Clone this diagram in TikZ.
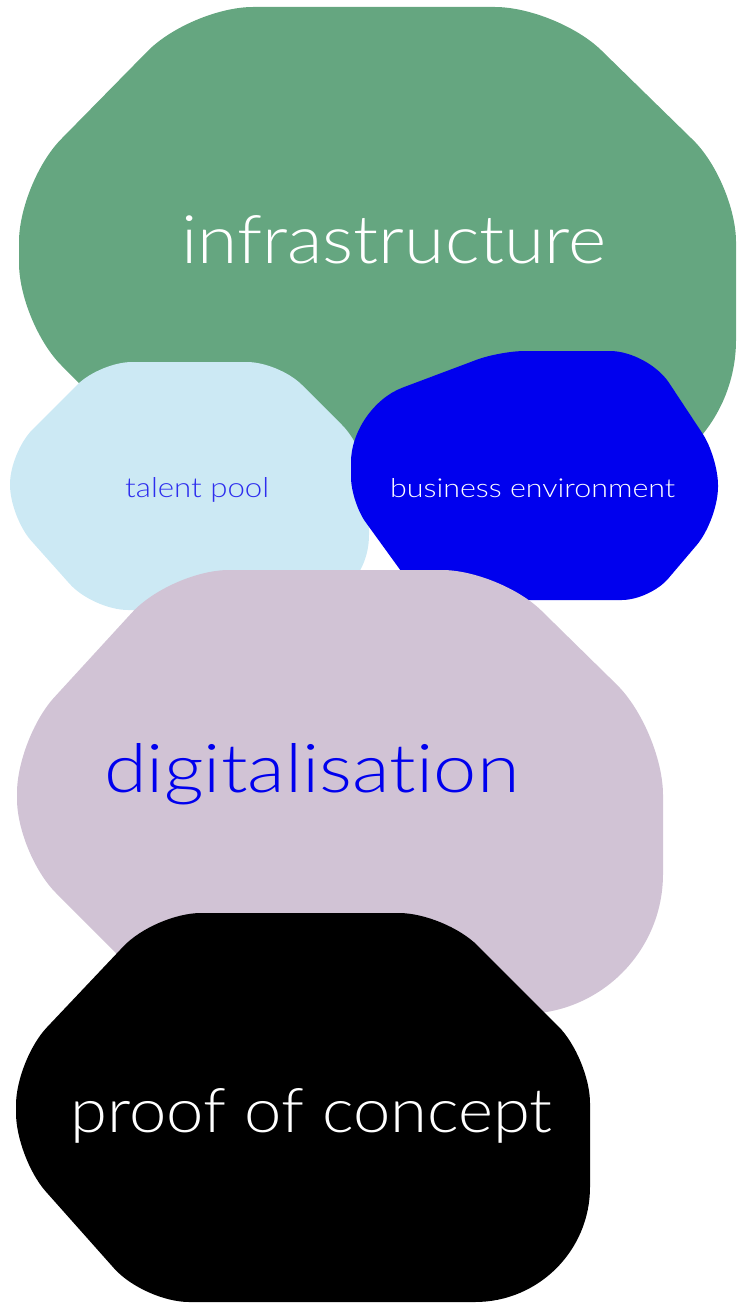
\documentclass[tikz,border=0pt]{standalone}
\usepackage{fontspec}
\usepackage{graphicx}
\newfontfamily\thinfont{Lato Light}[Ligatures={NoCommon}]
\definecolor{infra}{RGB}{101,166,128}
\definecolor{talentc}{RGB}{204,233,244}
\definecolor{bizblue}{RGB}{0,0,238}
\definecolor{digi}{RGB}{209,195,213}
\definecolor{talenttext}{RGB}{45,45,238}
\tikzset{labeltext/.style={anchor=base west, inner sep=0pt, font=\thinfont}}
\begin{document}
\begin{tikzpicture}[x=1pt,y=-1pt]
\useasboundingbox (0,0) rectangle (736,1303);
% infrastructure blob
\fill[infra] (374,7)
 [rounded corners=62pt] -- (557,7)
 [rounded corners=60pt] -- (736,182)
 [rounded corners=150pt] -- (736,490)
 [rounded corners=50pt] -- (186,490)
 [rounded corners=60pt] -- (19,323)
 [rounded corners=60pt] -- (19,182)
 [rounded corners=62pt] -- (191,7)
 -- cycle;
% talent pool blob
\fill[talentc] (190,362)
 [rounded corners=32pt] -- (279,362)
 [rounded corners=38pt] -- (369,452)
 [rounded corners=75pt] -- (369,610)
 [rounded corners=35pt] -- (93,610)
 [rounded corners=32pt] -- (10,517)
 [rounded corners=32pt] -- (10,452)
 [rounded corners=32pt] -- (100,362)
 -- cycle;
% business environment blob
\fill[bizblue] (570,351)
 [rounded corners=38pt] -- (648,351)
 [rounded corners=28pt] -- (718,457)
 [rounded corners=33pt] -- (718,520)
 [rounded corners=28pt] -- (650,600)
 [rounded corners=20pt] -- (422,600)
 [rounded corners=25pt] -- (351,502)
 [rounded corners=55pt] -- (351,407)
 [rounded corners=25pt] -- (500,351)
 -- cycle;
% digitalisation blob
\fill[digi] (335,570)
 [rounded corners=58pt] -- (500,570)
 [rounded corners=65pt] -- (663,730)
 [rounded corners=140pt] -- (663,1014)
 [rounded corners=50pt] -- (177,1014)
 [rounded corners=55pt] -- (17,854)
 [rounded corners=55pt] -- (17,738)
 [rounded corners=58pt] -- (171,570)
 -- cycle;
% proof of concept blob
\fill[black] (300,913)
 [rounded corners=46pt] -- (445,913)
 [rounded corners=45pt] -- (590,1058)
 [rounded corners=115pt] -- (590,1302)
 [rounded corners=45pt] -- (144,1302)
 [rounded corners=45pt] -- (16,1158)
 [rounded corners=45pt] -- (16,1060)
 [rounded corners=46pt] -- (155,913)
 -- cycle;
% labels
\node[labeltext, text=white] (infra) at (181,263) {\resizebox{425pt}{48pt}{infrastructure}};
\node[labeltext, text=talenttext] (talent) at (125,497) {\resizebox{144pt}{20pt}{talent pool}};
\node[labeltext, text=white] (biz) at (390,497) {\resizebox{285pt}{19pt}{business environment}};
\node[labeltext, text=bizblue] (digi) at (104,792) {\resizebox{415pt}{49pt}{digitalisation}};
\node[labeltext, text=white] (poc) at (70,1132) {\resizebox{482pt}{44pt}{proof of concept}};
\end{tikzpicture}
\end{document}
